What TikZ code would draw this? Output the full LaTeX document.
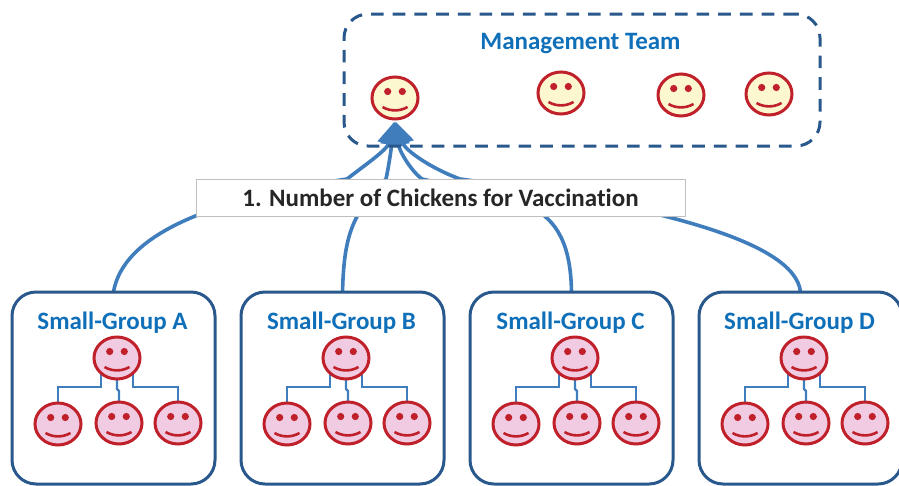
\documentclass[tikz,border=0pt]{standalone}
\usepackage{fontspec}
\setmainfont{Carlito}[Ligatures=NoCommon]
\usetikzlibrary{shapes.geometric,arrows.meta,backgrounds,calc}
\definecolor{boxblue}{HTML}{28588C}
\definecolor{titleblue}{HTML}{0F6FB8}
\definecolor{linkblue}{HTML}{3F7DBD}
\definecolor{facered}{HTML}{C0202A}
\definecolor{faceyellow}{HTML}{FCF7CF}
\definecolor{facepink}{HTML}{F0CBE2}
\tikzset{
  facebase/.style={ellipse,draw=facered,line width=3pt,minimum width=46pt,minimum height=42pt,inner sep=0pt,outer sep=0pt},
  groupbox/.style={draw=boxblue,line width=3pt,rounded corners=24pt,minimum width=203pt,minimum height=192pt,inner sep=0pt,outer sep=0pt},
  teambox/.style={draw=boxblue,line width=3pt,dash pattern=on 12.7pt off 9pt,rounded corners=24pt,minimum width=476pt,minimum height=132pt,inner sep=0pt,outer sep=0pt},
  labelbox/.style={draw=black!25,fill=white,line width=1pt,minimum width=489pt,minimum height=37pt,inner sep=0pt,outer sep=0pt,text=black!85,font=\bfseries\fontsize{25}{27}\selectfont},
  titletext/.style={text=titleblue,inner sep=0pt,font=\bfseries\fontsize{25}{27}\selectfont},
  flow/.style={draw=linkblue,line width=3.6pt,shorten >=3pt,-{Triangle[length=23pt,width=22pt]}},
  orgline/.style={draw=linkblue,line width=2.2pt},
}
\newcommand{\smiley}[4]{%
  \node[facebase,fill=#4] (#1) at (#2,#3) {};
  \fill[facered] ($(#1.center)+(-7.3,-6.5)$) circle (3.6pt) ($(#1.center)+(7.3,-6.5)$) circle (3.6pt);
  \draw[facered,line width=2.6pt] ($(#1.center)+(-12.5,9)$) .. controls ($(#1.center)+(-5,13.5)$) and ($(#1.center)+(5,13.5)$) .. ($(#1.center)+(12.5,9)$);
}
\newcommand{\smallgroup}[2]{%
  \node[groupbox] (g#1) at (#2,388) {};
  \node[titletext] (t#1) at (#2-1,323) {Small-Group #1};
  \smiley{h#1}{#2+3.5}{358}{facepink}
  \smiley{a#1}{#2-55.5}{424}{facepink}
  \smiley{b#1}{#2+5.5}{423}{facepink}
  \smiley{c#1}{#2+64.5}{423}{facepink}
  \begin{pgfonlayer}{background}
    \draw[orgline] (h#1.south west) -- ++(0,14) -| (a#1.north);
    \draw[orgline] (h#1.south) -- ++(0,10) -- ++(2,2) -- (b#1.north);
    \draw[orgline] (h#1.south east) -- ++(0,14) -| (c#1.north);
  \end{pgfonlayer}
}
\begin{document}
\begin{tikzpicture}[x=1pt,y=-1pt]
\useasboundingbox (0,0) rectangle (899,485);
\node[teambox] (team) at (582,80) {};
\node[titletext] (teamtitle) at (580.5,43.5) {Management Team};
\smiley{m1}{395}{98}{faceyellow}
\smiley{m2}{561}{93}{faceyellow}
\smiley{m3}{681}{95}{faceyellow}
\smiley{m4}{769}{94}{faceyellow}
\node[labelbox] (lab) at (440.5,197.5) {1. Number of Chickens for Vaccination};
\smallgroup{A}{113.5}
\smallgroup{B}{342.5}
\smallgroup{C}{571.5}
\smallgroup{D}{800.5}
\begin{pgfonlayer}{background}
\draw[flow] (gA.north) .. controls (125,225) and (240,195) .. (347,179) .. controls (365,165) and (387,150) .. (m1.south);
\draw[flow] (gB.north) .. controls (344,240) and (350,215) .. (386,179) .. controls (389,165) and (391,150) .. (m1.south);
\draw[flow] (gC.north) .. controls (570,195) and (515,200) .. (422,179) .. controls (410,170) and (399,150) .. (m1.south);
\draw[flow] (gD.north) .. controls (795,240) and (650,205) .. (460,179) .. controls (430,168) and (405,150) .. (m1.south);
\end{pgfonlayer}
\end{tikzpicture}
\end{document}
